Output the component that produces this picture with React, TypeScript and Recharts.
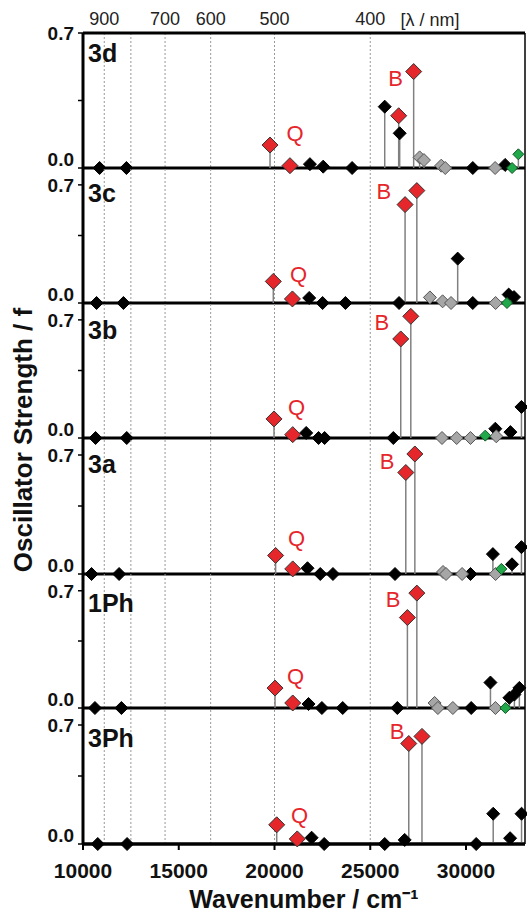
import React from 'react';
import {
  ScatterChart,
  Scatter,
  XAxis,
  YAxis,
  ReferenceLine,
  ReferenceDot,
  ErrorBar,
} from 'recharts';

type Pt = [number, number];

// wavenumber (cm-1), oscillator strength
const p3dBlack: Pt[] = [[10866, 0], [12268, 0], [21849, 0.02], [22542, 0.007], [24052, 0], [25755, 0.318], [26536, 0.18], [30354, 0], [32042, 0.016]];
const p3dRed: Pt[] = [[19766, 0.119], [20807, 0.012], [26484, 0.271], [27266, 0.5]];
const p3dGray: Pt[] = [[27578, 0.055], [27804, 0.041], [28707, 0.012], [28915, 0], [31520, 0]];
const p3dGreen: Pt[] = [[32406, 0], [32734, 0.071]];

const p3cBlack: Pt[] = [[10708, 0], [12111, 0], [21812, 0.03], [22511, 0], [23703, 0], [26503, 0], [29565, 0.263], [30353, 0], [32228, 0.05], [32507, 0.035]];
const p3cRed: Pt[] = [[19937, 0.128], [20935, 0.024], [26818, 0.583], [27432, 0.666]];
const p3cGray: Pt[] = [[28115, 0.033], [28777, 0.01], [29218, 0], [31545, 0]];
const p3cGreen: Pt[] = [[32139, 0]];

const p3bBlack: Pt[] = [[10656, 0], [12284, 0], [21655, 0.03], [22301, 0], [22616, 0], [26204, 0], [31530, 0.055], [32318, 0.035], [32895, 0.184]];
const p3bRed: Pt[] = [[19974, 0.113], [20951, 0.02], [26592, 0.587], [27117, 0.721]];
const p3bGray: Pt[] = [[28746, 0], [29513, 0], [30233, 0], [31582, 0.01]];
const p3bGreen: Pt[] = [[31005, 0.014]];

const p3aBlack: Pt[] = [[10446, 0], [11885, 0], [21723, 0.034], [22390, 0], [23052, 0], [26293, 0], [30233, 0], [31404, 0.117], [32401, 0.057], [32895, 0.158]];
const p3aRed: Pt[] = [[20058, 0.109], [20951, 0.03], [26855, 0.597], [27328, 0.706]];
const p3aGray: Pt[] = [[28800, 0.012], [28956, 0], [29796, 0], [31545, 0]];
const p3aGreen: Pt[] = [[31845, 0.03]];

const p1PhBlack: Pt[] = [[10624, 0], [12006, 0], [21776, 0.024], [22474, 0], [23561, 0], [26414, 0], [30271, 0], [31276, 0.152], [32265, 0.061], [32526, 0.08], [32786, 0.12]];
const p1PhRed: Pt[] = [[20027, 0.119], [20951, 0.03], [26939, 0.54], [27432, 0.686]];
const p1PhGray: Pt[] = [[28359, 0.03], [28531, 0], [29313, 0], [31536, 0]];
const p1PhGreen: Pt[] = [[32057, 0]];

const p3PhBlack: Pt[] = [[10771, 0], [12302, 0], [21938, 0.037], [22594, 0], [25755, 0], [26797, 0.024], [30531, 0], [31420, 0.178], [32302, 0.034], [32900, 0.178]];
const p3PhRed: Pt[] = [[20115, 0.113], [21188, 0.03], [27010, 0.591], [27700, 0.633]];

const panelNames = ['3d', '3c', '3b', '3a', '1Ph', '3Ph'];
const qPos: Pt[] = [[21068, 0.18], [21250, 0.168], [21146, 0.18], [21146, 0.213], [21094, 0.19], [21302, 0.172]];
const bPos: Pt[] = [[26328, 0.465], [25714, 0.66], [25609, 0.684], [25875, 0.664], [26188, 0.648], [26396, 0.664]];

const wavelengths = [900, 800, 700, 600, 500, 400];
const bottomTicks = [10000, 15000, 20000, 25000, 30000];

const X_MIN = 10000;
const X_MAX = 33080;
const FONT = '"Liberation Sans", Arial, Helvetica, sans-serif';

// layout (page px)
const TOP = 33;
const baselines = [168, 303, 438, 574, 708, 844];
const nameBaselines = [62, 202, 339, 473, 612, 747];
const PAD = 14;
const X_AXIS_H = 72;

const panels = [
  { black: p3dBlack, red: p3dRed, gray: p3dGray, green: p3dGreen },
  { black: p3cBlack, red: p3cRed, gray: p3cGray, green: p3cGreen },
  { black: p3bBlack, red: p3bRed, gray: p3bGray, green: p3bGreen },
  { black: p3aBlack, red: p3aRed, gray: p3aGray, green: p3aGreen },
  { black: p1PhBlack, red: p1PhRed, gray: p1PhGray, green: p1PhGreen },
  { black: p3PhBlack, red: p3PhRed, gray: [] as Pt[], green: [] as Pt[] },
];

const toRows = (pts: Pt[]) => pts.map(([x, y]) => ({ x, y, err: [y, 0] }));

const diamond = (half: number, fill: string, stroke: string) => (props: any) => {
  const { cx, cy } = props;
  if (cx == null || cy == null) return <g />;
  return (
    <polygon
      points={`${cx},${cy - half} ${cx + half},${cy} ${cx},${cy + half} ${cx - half},${cy}`}
      fill={fill}
      stroke={stroke}
      strokeWidth={1}
    />
  );
};

const YTick = (props: any) => {
  const { x, y, payload } = props;
  const v = payload.value;
  if (v !== 0 && v !== 0.7) return <g />;
  return (
    <text x={x} y={v === 0 ? y - 9 : y} dy="0.36em" textAnchor="end" fontSize={19} fontWeight="bold" fill="#111" fontFamily={FONT}>
      {v.toFixed(1)}
    </text>
  );
};

const stick = (
  <ErrorBar dataKey="err" direction="y" width={0} stroke="#808080" strokeWidth={1.5} isAnimationActive={false} />
);

function Panel({ i }: { i: number }) {
  const first = i === 0;
  const last = i === panels.length - 1;
  const top = first ? TOP : baselines[i - 1];
  const h = baselines[i] - top;
  const topSpace = first ? TOP : PAD;
  const bottomSpace = last ? X_AXIS_H : PAD;
  const svgTop = top - topSpace;
  const yMax = first ? 0.7 : 0.8;
  const yTicks = first ? [0, 0.35, 0.7] : [0, 0.4, 0.7];
  const p = panels[i];

  return (
    <div style={{ position: 'absolute', left: 0, top: svgTop }}>
      <ScatterChart
        width={527}
        height={topSpace + h + bottomSpace}
        margin={{ top: first ? 0 : PAD, right: 2, bottom: last ? 0 : PAD, left: 0 }}
      >
        {first ? (
          <XAxis
            type="number"
            dataKey="x"
            orientation="top"
            domain={[X_MIN, X_MAX]}
            ticks={wavelengths.map((l) => 1e7 / l)}
            interval={0}
            tickFormatter={(v: number) => {
              const l = Math.round(1e7 / v);
              return l === 800 ? '' : String(l);
            }}
            height={TOP}
            axisLine={{ stroke: '#000', strokeWidth: 3 }}
            tickLine={false}
            tickSize={0}
            tickMargin={8}
            tick={{ fontSize: 18, fill: '#222', fontFamily: FONT }}
          />
        ) : last ? (
          <XAxis
            type="number"
            dataKey="x"
            domain={[X_MIN, X_MAX]}
            ticks={bottomTicks}
            interval={0}
            height={X_AXIS_H}
            axisLine={{ stroke: '#000', strokeWidth: 3 }}
            tickLine={{ stroke: '#000', strokeWidth: 2 }}
            tickSize={6}
            tickMargin={13}
            tick={{ fontSize: 21, fontWeight: 'bold', fill: '#111', fontFamily: FONT }}
            label={{
              value: 'Wavenumber / cm⁻¹',
              position: 'insideBottom',
              offset: 8,
              fontSize: 25,
              fontWeight: 'bold',
              fill: '#111',
              fontFamily: FONT,
            }}
          />
        ) : (
          <XAxis type="number" dataKey="x" domain={[X_MIN, X_MAX]} hide />
        )}
        <YAxis
          type="number"
          dataKey="y"
          domain={[0, yMax]}
          ticks={yTicks}
          width={83}
          axisLine={{ stroke: '#000', strokeWidth: 3 }}
          tickLine={{ stroke: '#000', strokeWidth: 1.5 }}
          tickSize={5}
          tickMargin={4}
          tick={<YTick />}
        />
        {wavelengths.map((l) => (
          <ReferenceLine key={l} x={1e7 / l} stroke="#999" strokeWidth={1} strokeDasharray="2 2" />
        ))}
        <ReferenceLine x={X_MAX} stroke="#000" strokeWidth={1.5} />
        <ReferenceLine y={0} stroke="#000" strokeWidth={3} />
        <Scatter data={toRows(p.black)} shape={diamond(6.5, '#000', '#000')} isAnimationActive={false}>
          {stick}
        </Scatter>
        <Scatter data={toRows(p.gray)} shape={diamond(6.5, '#a6a6a6', '#555')} isAnimationActive={false}>
          {stick}
        </Scatter>
        <Scatter data={toRows(p.green)} shape={diamond(5.5, '#20a84a', '#0d5a24')} isAnimationActive={false}>
          {stick}
        </Scatter>
        <Scatter data={toRows(p.red)} shape={diamond(8, '#e5262b', '#333')} isAnimationActive={false}>
          {stick}
        </Scatter>
        <ReferenceDot
          x={qPos[i][0]}
          y={qPos[i][1]}
          r={0}
          fill="none"
          stroke="none"
          label={{ value: 'Q', position: 'center', fill: '#e5262b', fontSize: 22, fontFamily: FONT }}
        />
        <ReferenceDot
          x={bPos[i][0]}
          y={bPos[i][1]}
          r={0}
          fill="none"
          stroke="none"
          label={{ value: 'B', position: 'center', fill: '#e5262b', fontSize: 22, fontFamily: FONT }}
        />
      </ScatterChart>
    </div>
  );
}

export default function App() {
  return (
    <div style={{ position: 'absolute', left: 0, top: 0, width: 527, height: 916, background: '#fff', fontFamily: FONT }}>
      {panels.map((_, i) => (
        <Panel key={i} i={i} />
      ))}
      <svg width={527} height={916} style={{ position: 'absolute', left: 0, top: 0, pointerEvents: 'none' }}>
        <text x={430} y={26} textAnchor="middle" fontSize={18} fill="#222" fontFamily={FONT}>
          [λ / nm]
        </text>
        {panelNames.map((n, i) => (
          <text key={n} x={88} y={nameBaselines[i]} fontSize={25} fontWeight="bold" fill="#111" fontFamily={FONT}>
            {n}
          </text>
        ))}
        <text
          x={23}
          y={440}
          transform="rotate(-90 23 440)"
          textAnchor="middle"
          dominantBaseline="central"
          fontSize={26}
          fontWeight="bold"
          fill="#111"
          fontFamily={FONT}
        >
          Oscillator Strength / f
        </text>
      </svg>
    </div>
  );
}
